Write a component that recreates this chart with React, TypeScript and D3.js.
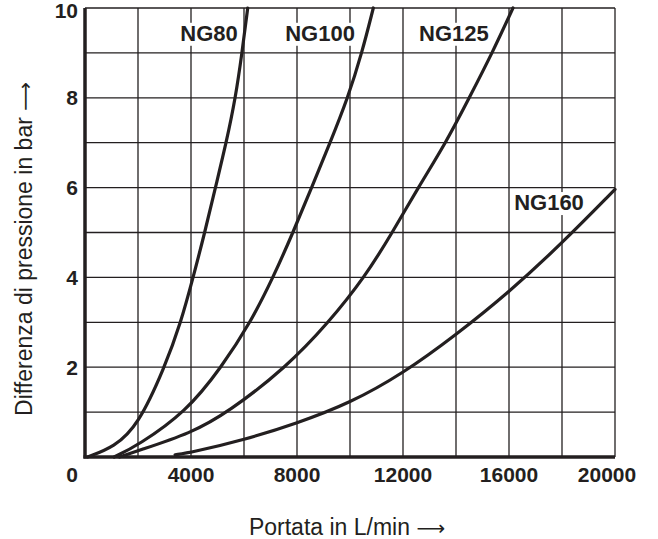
import React, { useEffect, useRef } from 'react';
import * as d3 from 'd3';

// flow (L/min) vs pressure difference (bar)
const ng80Flow = [100, 1100, 2000, 3010, 3620, 4080, 4520, 4920, 5330, 5680, 5925, 6140];
const ng80Dp = [0, 0.22, 0.7, 2, 3, 4, 5, 6, 7, 8, 9, 10];

const ng100Flow = [1100, 2000, 3810, 5150, 6250, 7100, 7850, 8550, 9250, 9920, 10450, 10880];
const ng100Dp = [0, 0.26, 1, 2, 3, 4, 5, 6, 7, 8, 9, 10];

const ng125Flow = [1300, 2000, 4000, 5410, 7600, 9200, 10550, 11600, 12570, 13620, 14500, 15370, 16150];
const ng125Dp = [0, 0.14, 0.53, 1, 2, 3, 4, 5, 6, 7, 8, 9, 10];

const ng160Flow = [3400, 4000, 6000, 8000, 10000, 12000, 14000, 16000, 18000, 20000];
const ng160Dp = [0.05, 0.1, 0.38, 0.75, 1.2, 1.86, 2.72, 3.67, 4.76, 5.96];

const seriesNames = ['NG80', 'NG100', 'NG125', 'NG160'];

const xTicks = [0, 4000, 8000, 12000, 16000, 20000];
const yTicks = [2, 4, 6, 8, 10];

// label anchor in data units (flow, bar)
const labelAt: Record<string, [number, number]> = {
  NG80: [4680, 9.27],
  NG100: [8870, 9.27],
  NG125: [13920, 9.27],
  NG160: [17510, 5.5],
};

const ink = '#231f20';

export default function App() {
  const svgRef = useRef<SVGSVGElement>(null);

  useEffect(() => {
    if (!svgRef.current) return;
    const svg = d3.select(svgRef.current);
    svg.selectAll('*').remove();

    const x = d3.scaleLinear().domain([0, 20000]).range([85, 615]);
    const y = d3.scaleLinear().domain([0, 10]).range([457, 8]);

    const series = [
      { name: seriesNames[0], pts: ng80Flow.map((f, i) => [f, ng80Dp[i]] as [number, number]) },
      { name: seriesNames[1], pts: ng100Flow.map((f, i) => [f, ng100Dp[i]] as [number, number]) },
      { name: seriesNames[2], pts: ng125Flow.map((f, i) => [f, ng125Dp[i]] as [number, number]) },
      { name: seriesNames[3], pts: ng160Flow.map((f, i) => [f, ng160Dp[i]] as [number, number]) },
    ];

    // grid
    const grid = svg.append('g').attr('stroke', ink).attr('stroke-width', 1.3);
    grid.selectAll('line.v')
      .data(d3.range(0, 20001, 2000))
      .enter().append('line')
      .attr('x1', d => x(d)).attr('x2', d => x(d))
      .attr('y1', y(10)).attr('y2', y(0));
    grid.selectAll('line.h')
      .data(d3.range(0, 11, 1))
      .enter().append('line')
      .attr('x1', x(0)).attr('x2', x(20000))
      .attr('y1', d => y(d)).attr('y2', d => y(d));

    // series labels on white boxes
    const labels = svg.append('g')
      .attr('font-family', '"Liberation Sans", Arial, sans-serif')
      .attr('font-weight', 'bold')
      .attr('font-size', 22)
      .attr('fill', ink);
    series.forEach(s => {
      const [lx, ly] = labelAt[s.name];
      const g = labels.append('g');
      const t = g.append('text')
        .attr('x', x(lx)).attr('y', y(ly))
        .attr('text-anchor', 'middle')
        .text(s.name);
      const bb = (t.node() as SVGTextElement).getBBox();
      g.insert('rect', 'text')
        .attr('x', bb.x - 2).attr('y', bb.y + 2)
        .attr('width', bb.width + 4).attr('height', bb.height - 2)
        .attr('fill', '#fff');
    });

    // curves (B-spline smooths the reading noise)
    const line = d3.line<[number, number]>()
      .x(d => x(d[0]))
      .y(d => y(d[1]))
      .curve(d3.curveBasis);
    svg.append('g')
      .selectAll('path')
      .data(series)
      .enter().append('path')
      .attr('d', d => line(d.pts))
      .attr('fill', 'none')
      .attr('stroke', ink)
      .attr('stroke-width', 3.2)
      .attr('stroke-linecap', 'round');

    // heavy axes
    svg.append('line')
      .attr('x1', x(0)).attr('x2', x(0))
      .attr('y1', y(10)).attr('y2', y(0) + 1.5)
      .attr('stroke', ink).attr('stroke-width', 3.5);
    svg.append('line')
      .attr('x1', x(0) - 1.5).attr('x2', x(20000))
      .attr('y1', y(0)).attr('y2', y(0))
      .attr('stroke', ink).attr('stroke-width', 3.5);

    // tick labels
    const ticks = svg.append('g')
      .attr('font-family', '"Liberation Sans", Arial, sans-serif')
      .attr('font-weight', 'bold')
      .attr('font-size', 21)
      .attr('fill', ink);
    ticks.selectAll('text.x')
      .data(xTicks)
      .enter().append('text')
      .attr('x', d => (d === 0 ? x(d) - 13 : Math.min(x(d), 607)))
      .attr('y', 482)
      .attr('text-anchor', 'middle')
      .text(d => String(d));
    ticks.selectAll('text.y')
      .data(yTicks)
      .enter().append('text')
      .attr('x', 78)
      .attr('y', d => Math.max(y(d), 10.5))
      .attr('dy', '0.36em')
      .attr('text-anchor', 'end')
      .text(d => String(d));

    // axis titles, long arrow from DejaVu
    const titles = svg.append('g')
      .attr('font-family', '"Liberation Sans", Arial, sans-serif')
      .attr('font-size', 23)
      .attr('fill', ink);
    const xt = titles.append('text')
      .attr('x', 347).attr('y', 535)
      .attr('text-anchor', 'middle');
    xt.append('tspan').text('Portata in L/min ');
    xt.append('tspan').attr('font-family', '"DejaVu Sans"').attr('font-size', 20).text('\u27F6');
    const yt = titles.append('text')
      .attr('transform', 'translate(32,249) rotate(-90)')
      .attr('text-anchor', 'middle');
    yt.append('tspan').text('Differenza di pressione in bar ');
    yt.append('tspan').attr('font-family', '"DejaVu Sans"').attr('font-size', 20).text('\u27F6');
  }, []);

  return (
    <svg
      ref={svgRef}
      width={658}
      height={539}
      style={{ position: 'absolute', left: 0, top: 0, background: '#fff' }}
    />
  );
}
